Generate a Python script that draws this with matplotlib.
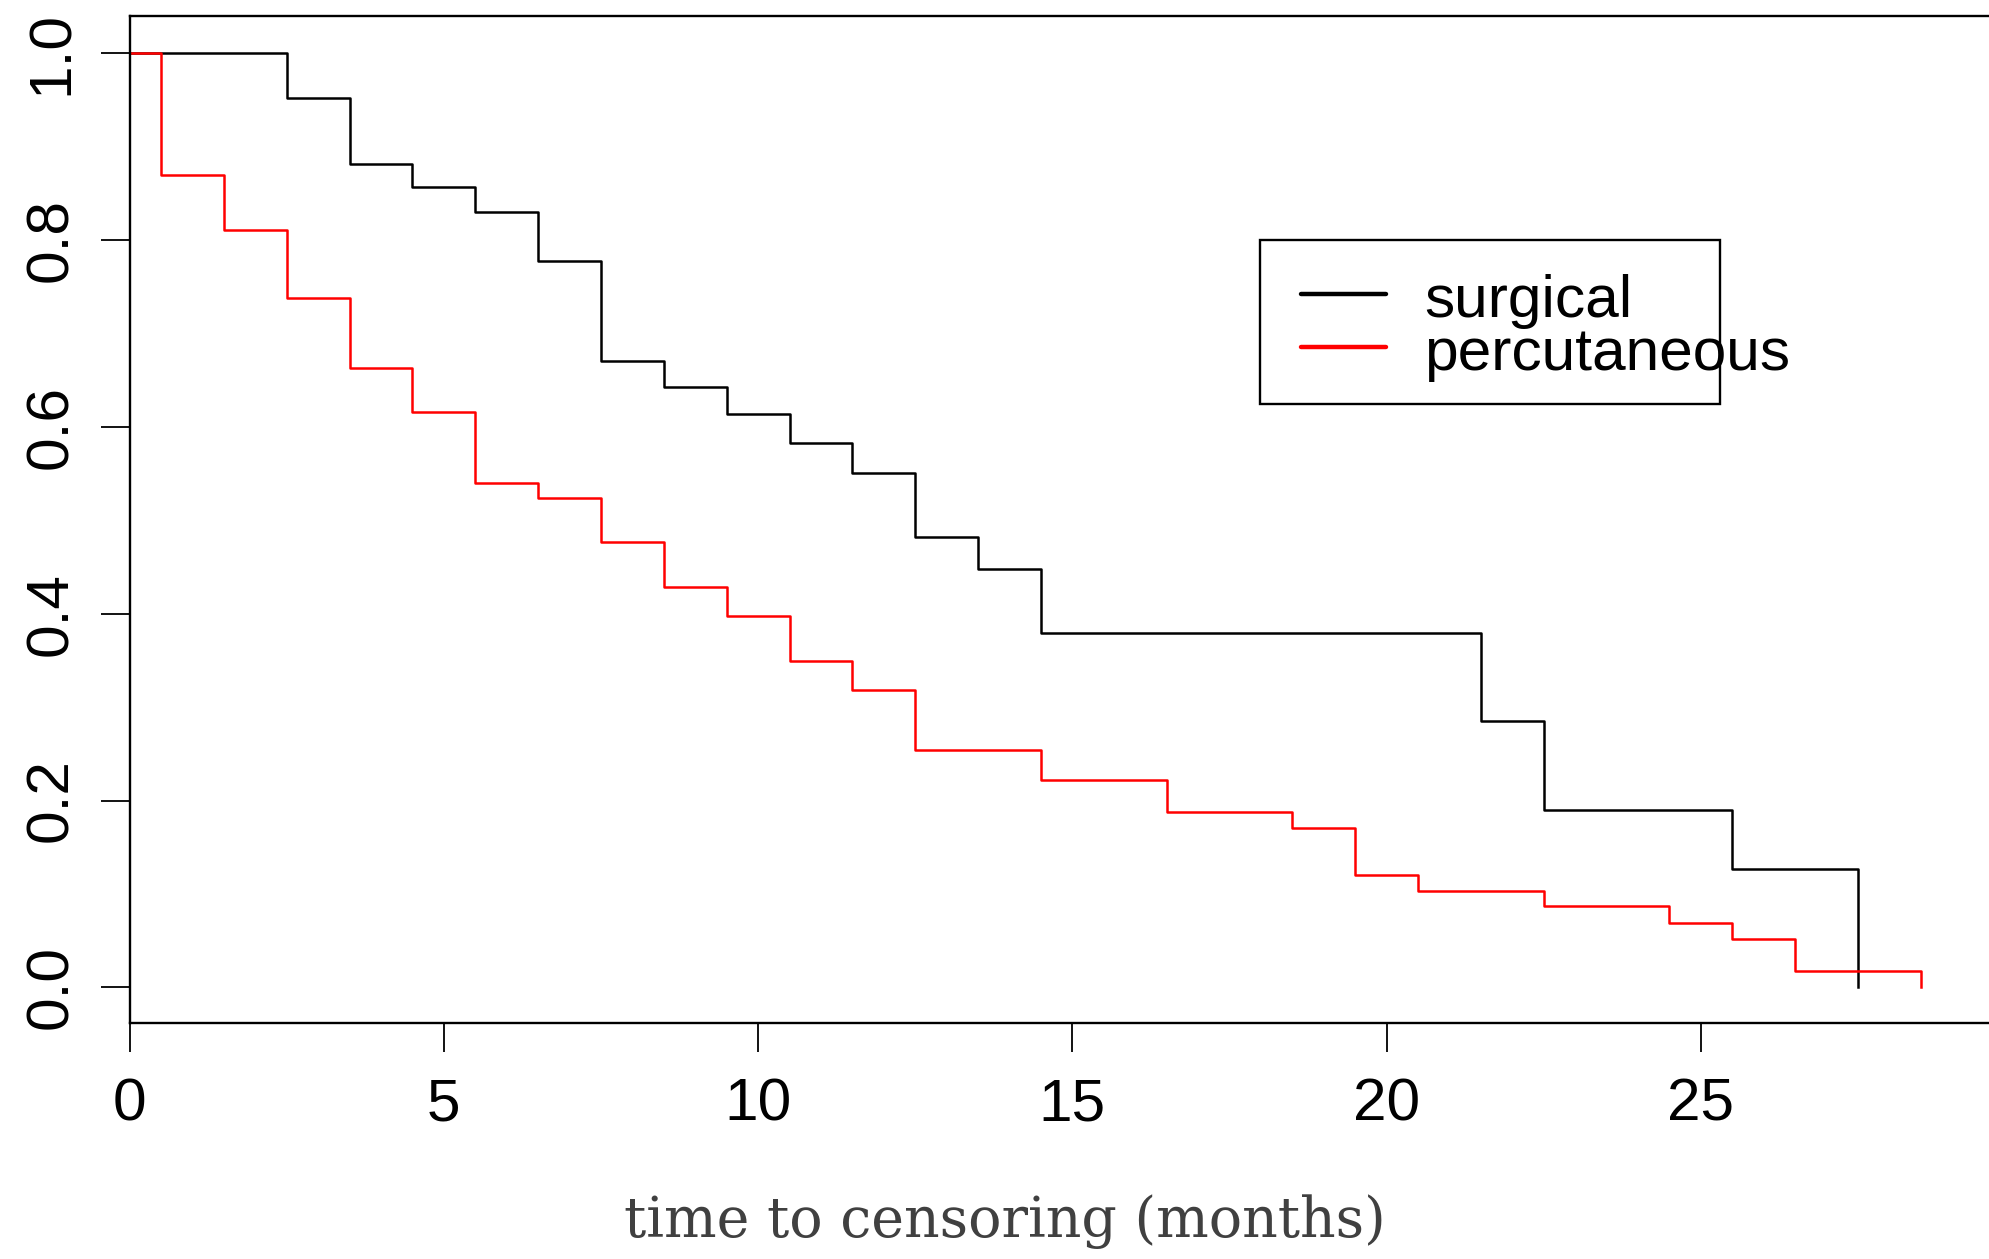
import matplotlib
matplotlib.use("Agg")
import matplotlib.pyplot as plt
from matplotlib.patches import Rectangle
from matplotlib.lines import Line2D

# Kaplan-Meier style step curves (time in months, survival proportion)
surgical_t = [0, 2.5, 3.5, 4.5, 5.5, 6.5, 7.5, 8.5, 9.5, 10.5, 11.5, 12.5,
              13.5, 14.5, 21.5, 22.5, 25.5, 27.5]
surgical_s = [1.0, 0.952, 0.881, 0.857, 0.830, 0.777, 0.670, 0.643, 0.614,
              0.583, 0.551, 0.482, 0.448, 0.379, 0.285, 0.190, 0.127, 0.0]

percut_t = [0, 0.5, 1.5, 2.5, 3.5, 4.5, 5.5, 6.5, 7.5, 8.5, 9.5, 10.5, 11.5,
            12.5, 14.5, 16.5, 18.5, 19.5, 20.5, 22.5, 24.5, 25.5, 26.5, 28.5]
percut_s = [1.0, 0.869, 0.811, 0.738, 0.663, 0.616, 0.540, 0.524, 0.477,
            0.429, 0.397, 0.349, 0.318, 0.254, 0.222, 0.188, 0.171, 0.120,
            0.103, 0.087, 0.069, 0.052, 0.018, 0.0]

xticks = [0, 5, 10, 15, 20, 25]
yticks = [0.0, 0.2, 0.4, 0.6, 0.8, 1.0]
series_names = ["surgical", "percutaneous"]
series_colors = ["black", "red"]

sans = ["Liberation Sans", "DejaVu Sans"]
plt.rcParams['font.family'] = sans

fig = plt.figure(figsize=(19.9, 12.59), dpi=100)
ax = fig.add_axes([0.0651, 0.1875, 1 - 0.0651, 0.9869 - 0.1875])

ax.step(surgical_t, surgical_s, where='post', color=series_colors[0], lw=1.8)
ax.step(percut_t, percut_s, where='post', color=series_colors[1], lw=1.8)

ax.set_xlim(0, 29.6)
ax.set_ylim(-0.038, 1.039)
ax.set_xticks(xticks)
ax.set_xticklabels([str(v) for v in xticks])
ax.set_yticks(yticks)
ax.set_yticklabels([f"{v:.1f}" for v in yticks])

ax.tick_params(axis='both', direction='out', length=21, width=1.3,
               labelsize=43.5, colors='black')
ax.tick_params(axis='x', pad=18)
ax.tick_params(axis='y', pad=15, labelrotation=90)
for lab in ax.get_yticklabels():
    lab.set_va('center')

for side in ['left', 'top', 'bottom']:
    ax.spines[side].set_linewidth(1.7)
ax.spines['right'].set_visible(False)

# R-style legend box, text spilling past the frame
ax.add_patch(Rectangle((0.6076, 0.615), 0.8549 - 0.6076, 0.778 - 0.615,
                       transform=ax.transAxes, fill=False, ec='black',
                       lw=1.7, zorder=5))
line_y = [0.7244, 0.6715]
text_y = [0.7013, 0.6487]
for name, col, ly, ty in zip(series_names, series_colors, line_y, text_y):
    ax.add_line(Line2D([0.6296, 0.6753], [ly, ly], transform=ax.transAxes,
                       color=col, lw=3.2, solid_capstyle='round', zorder=6))
    ax.text(0.6958, ty, name, transform=ax.transAxes, fontsize=43.5,
            va='baseline', ha='left', zorder=6)

fig.text(0.505, 0.0175, "time to censoring (months)", ha='center',
         va='baseline', fontsize=40, color='#404040',
         family=["DejaVu Serif"])

fig.savefig("out.png", dpi=100)
plt.close(fig)
